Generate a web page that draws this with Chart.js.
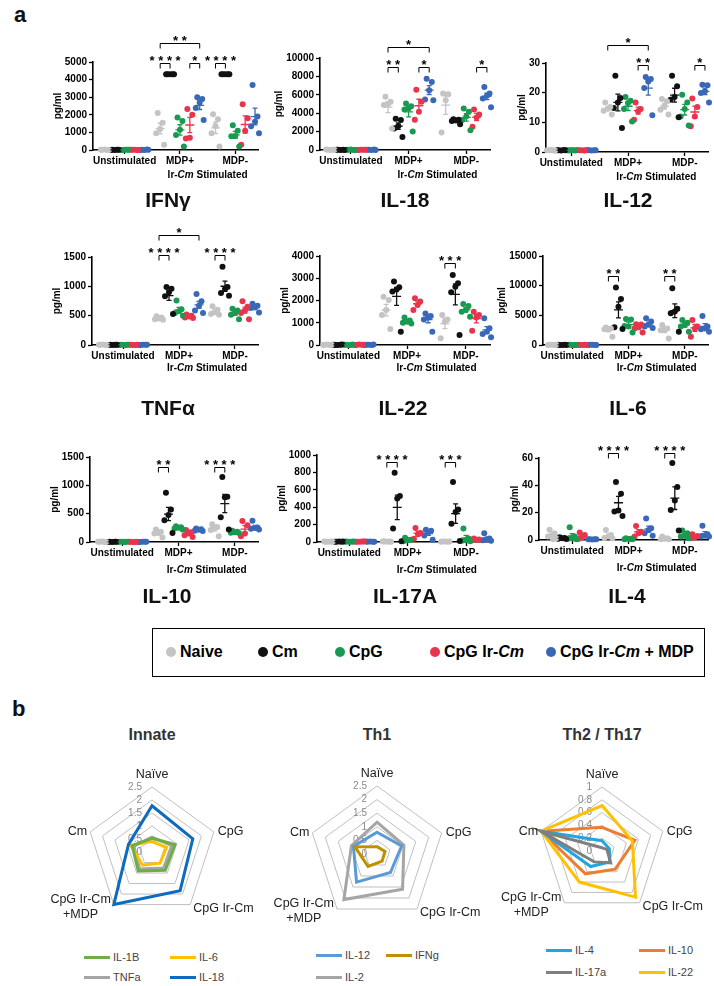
<!DOCTYPE html>
<html>
<head>
<meta charset="utf-8">
<script src="https://cdn.jsdelivr.net/npm/chart.js@4.4.1/dist/chart.umd.min.js"></script>
<style>
  body { margin: 0; background: #fff; font-family: "Liberation Sans", Arial, sans-serif; }
  #page { position: relative; width: 714px; height: 986px; overflow: hidden; background: #fff; }
  .ptitle { position: absolute; width: 200px; text-align: center; font-weight: bold; font-size: 21px; line-height: 24px; color: #111; }
  .rtitle { position: absolute; width: 200px; text-align: center; font-weight: bold; font-size: 16px; line-height: 20px; color: #333; }
  .tag { position: absolute; font-weight: bold; font-size: 22px; color: #111; }
  #legend { position: absolute; left: 152px; top: 628px; width: 551px; height: 47px; border: 1.5px solid #000; }
  .litem { position: absolute; top: 13px; font-weight: bold; font-size: 16px; line-height: 20px; white-space: nowrap; }
  .dot { position: absolute; top: 18px; width: 10px; height: 10px; border-radius: 50%; }
  .rleg { position: absolute; font-size: 11px; line-height: 14px; color: #444; white-space: nowrap; }
  .rleg span { display: inline-block; width: 26px; height: 3px; vertical-align: middle; margin-right: 3px; position: relative; top: -1px; }
</style>
</head>
<body>
<div id="page">
  <div class="tag" style="left:14px;top:2px;">a</div>
  <div class="tag" style="left:12px;top:696px;">b</div>

  <div id="legend">
    <div class="dot" style="left:13px;background:#c4c4c4"></div>
    <div class="litem" style="left:27px;">Naive</div>
    <div class="dot" style="left:105px;background:#111"></div>
    <div class="litem" style="left:119px;">Cm</div>
    <div class="dot" style="left:182px;background:#1a9a50"></div>
    <div class="litem" style="left:196px;">CpG</div>
    <div class="dot" style="left:277px;background:#e8344c"></div>
    <div class="litem" style="left:291px;">CpG Ir-<i>Cm</i></div>
    <div class="dot" style="left:393px;background:#3a68b8"></div>
    <div class="litem" style="left:407px;">CpG Ir-<i>Cm</i> + MDP</div>
  </div>

  <div class="rtitle" style="left:52px;top:725px;">Innate</div>
  <div class="rtitle" style="left:277px;top:725px;">Th1</div>
  <div class="rtitle" style="left:502px;top:725px;">Th2 / Th17</div>

  <div class="rleg" style="left:84px;top:950px;"><span style="background:#70ad47"></span>IL-1B</div>
  <div class="rleg" style="left:170px;top:950px;"><span style="background:#ffc000"></span>IL-6</div>
  <div class="rleg" style="left:84px;top:970px;"><span style="background:#a5a5a5"></span>TNFa</div>
  <div class="rleg" style="left:170px;top:970px;"><span style="background:#0f6cbd"></span>IL-18</div>

  <div class="rleg" style="left:316px;top:948px;"><span style="background:#5b9bd5"></span>IL-12</div>
  <div class="rleg" style="left:386px;top:948px;"><span style="background:#bf9000"></span>IFNg</div>
  <div class="rleg" style="left:316px;top:970px;"><span style="background:#a5a5a5"></span>IL-2</div>

  <div class="rleg" style="left:546px;top:943px;"><span style="background:#1ea7e1"></span>IL-4</div>
  <div class="rleg" style="left:639px;top:943px;"><span style="background:#ed7d31"></span>IL-10</div>
  <div class="rleg" style="left:546px;top:965px;"><span style="background:#7f7f7f"></span>IL-17a</div>
  <div class="rleg" style="left:639px;top:965px;"><span style="background:#ffc000"></span>IL-22</div>
</div>

<script>
// groups and series of the dot plots
const GROUPS = ['Unstimulated', 'MDP+', 'MDP-'];
const SERIES = ['Naive', 'Cm', 'CpG', 'CpG Ir-Cm', 'CpG Ir-Cm + MDP'];
const COLORS = ['#c4c4c4', '#111111', '#1a9a50', '#e8344c', '#3a68b8'];
const GROUP_START = [0, 5.6, 11.2];
const GROUP_CENTERS = [2, 7.6, 13.2];
const JITTER = [-0.25, 0.25, 0, -0.4, 0.4, 0.1];
const FONT = '"Liberation Sans", Arial, sans-serif';

// values per group: [Naive, Cm, CpG, CpG Ir-Cm, CpG Ir-Cm + MDP]
const IFNG_UNSTIM = [[15, 5, 25, 10, 0], [10, 20, 0, 5, 15], [5, 15, 20, 0, 10], [20, 0, 10, 15, 5], [10, 25, 5, 0, 15]];
const IFNG_MDP_POS = [[2100, 1550, 1200, 950, 300], [4300, 4300, 4300, 4300, 4300], [1850, 1650, 1150, 850, 200], [2330, 2000, 700, 650], [3000, 2900, 2700, 2380, 1700]];
const IFNG_MDP_NEG = [[2030, 1750, 1370, 950, 200], [4300, 4300, 4300, 4300, 4300], [1400, 1100, 800, 780, 200], [2600, 1800, 1100, 300], [3700, 1900, 1600, 1350, 950]];
const IFNG_AXIS = [0, 5000, 1000];
const IFNG_BRACKETS = [[1, 0, 1, 1, '****', 0], [1, 3, 1, 4, '*', 0], [2, 0, 2, 1, '****', 0], [1, 0, 1, 4, '**', 1]];

const IL18_UNSTIM = [[40, 20, 0, 60, 30], [20, 40, 0, 30, 10], [30, 0, 50, 20, 10], [10, 30, 40, 0, 20], [20, 50, 0, 30, 10]];
const IL18_MDP_POS = [[5800, 5250, 5000, 4900, 2350], [3400, 3250, 2600, 2350, 1400], [5050, 4750, 4500, 4400, 2000], [6550, 5250, 4150, 3300], [7750, 7400, 6500, 5500, 5400]];
const IL18_MDP_NEG = [[6150, 6050, 5400, 1900], [3350, 3300, 3200, 3150, 2800], [4500, 4150, 3650, 3250, 2150], [4400, 3860, 3540, 2530], [6850, 6150, 5900, 5600, 4650]];
const IL18_AXIS = [0, 10000, 2000];
const IL18_BRACKETS = [[1, 0, 1, 1, '**', 0], [1, 3, 1, 4, '*', 0], [2, 3, 2, 4, '*', 0], [1, 0, 1, 4, '*', 1]];

const IL12_UNSTIM = [[0.6, 0.5, 0.7, 0.6, 0.5], [0.6, 0.7, 0.5, 0.6, 0.6], [0.5, 0.6, 0.7, 0.6, 0.5], [0.6, 0.5, 0.6, 0.7, 0.6], [0.6, 0.6, 0.5, 0.7, 0.6]];
const IL12_MDP_POS = [[16.7, 15.2, 14.6, 13.9, 12.6], [25.7, 18.2, 16.7, 14.8, 8.1], [18.5, 17.3, 16.5, 14.5, 10.3], [16.7, 14.5, 13.7, 10.9], [25.3, 24.6, 23.8, 21.6, 12.4]];
const IL12_MDP_NEG = [[17.9, 17.1, 15.5, 14.2, 12.6], [25.7, 22.2, 18.5, 17.6, 11.7], [19.3, 16.7, 14.5, 12, 8.9], [18, 15.2, 12, 8.7], [22.7, 22.5, 20.5, 19.9, 16.7]];
const IL12_AXIS = [0, 30, 10];
const IL12_BRACKETS = [[1, 3, 1, 4, '**', 0], [2, 3, 2, 4, '*', 0], [1, 0, 1, 4, '*', 1]];

const TNFA_UNSTIM = [[5, 0, 8, 3, 2], [4, 6, 0, 2, 5], [3, 0, 6, 2, 4], [5, 2, 0, 6, 3], [2, 6, 4, 0, 3]];
const TNFA_MDP_POS = [[490, 470, 450, 440, 430], [990, 960, 900, 830, 530], [760, 610, 575, 545, 500], [520, 500, 485, 470, 460], [870, 745, 670, 590, 545]];
const TNFA_MDP_NEG = [[660, 600, 560, 530, 515], [1335, 990, 955, 885, 840], [620, 590, 540, 515, 440], [745, 650, 590, 545, 440], [705, 670, 640, 630, 555]];
const TNFA_AXIS = [0, 1500, 500];
const TNFA_BRACKETS = [[1, 0, 1, 1, '****', 0], [2, 0, 2, 1, '****', 0], [1, 0, 1, 4, '*', 1]];

const IL22_UNSTIM = [[10, 0, 20, 5, 15], [5, 15, 0, 10, 20], [10, 5, 0, 15, 20], [0, 10, 20, 5, 15], [15, 5, 10, 0, 20]];
const IL22_MDP_POS = [[2170, 2020, 1570, 1350, 720], [2850, 2590, 2500, 2400, 600], [1240, 1100, 1050, 1000, 970], [2100, 1950, 1800, 1570], [1420, 1300, 1240, 1150, 600]];
const IL22_MDP_NEG = [[1350, 1150, 1050, 300], [3150, 2770, 2620, 2370, 450], [1840, 1750, 1570, 1500, 1270], [1500, 1350, 1240, 640], [1200, 750, 600, 495, 345]];
const IL22_AXIS = [0, 4000, 1000];
const IL22_BRACKETS = [[2, 0, 2, 1, '***', 0]];

const IL6_UNSTIM = [[40, 0, 60, 20, 30], [20, 50, 0, 30, 10], [30, 10, 0, 50, 20], [0, 40, 20, 60, 10], [30, 0, 50, 10, 20]];
const IL6_MDP_POS = [[2950, 2800, 2700, 2650, 1400], [9700, 7750, 6450, 2980, 2700], [4400, 4300, 3100, 3200, 2100], [3500, 3450, 3000, 2800, 2100], [4500, 3950, 3400, 3100, 2850]];
const IL6_MDP_NEG = [[3350, 2800, 2600, 2500, 1100], [9550, 6100, 5650, 5350, 2250], [4200, 3750, 3350, 3100, 2250], [4200, 3100, 2800, 1400], [4900, 3100, 2800, 2650, 2250]];
const IL6_AXIS = [0, 15000, 5000];
const IL6_BRACKETS = [[1, 0, 1, 1, '**', 0], [2, 0, 2, 1, '**', 0]];

const IL10_UNSTIM = [[5, 0, 8, 3, 2], [4, 6, 0, 2, 5], [3, 0, 6, 2, 4], [5, 2, 0, 6, 3], [2, 6, 4, 0, 3]];
const IL10_MDP_POS = [[220, 180, 160, 150, 80], [870, 575, 475, 385, 160], [280, 260, 250, 240, 220], [210, 170, 150, 120, 90], [240, 225, 215, 200, 195]];
const IL10_MDP_NEG = [[315, 265, 250, 210, 100], [1145, 800, 790, 435, 220], [200, 180, 170, 165, 160], [370, 295, 150, 100], [375, 255, 245, 235, 220]];
const IL10_AXIS = [0, 1500, 500];
const IL10_BRACKETS = [[1, 0, 1, 1, '**', 0], [2, 0, 2, 1, '****', 0]];

const IL17A_UNSTIM = [[3, 5, 2, 6, 4], [4, 2, 6, 3, 5], [5, 3, 2, 4, 6], [2, 6, 4, 3, 5], [4, 3, 5, 6, 2]];
const IL17A_MDP_POS = [[8, 6, 4, 5, 3], [795, 530, 500, 155, 10], [50, 27, 19, 8], [162, 104, 88, 38], [140, 130, 115, 75, 25]];
const IL17A_MDP_NEG = [[6, 4, 5, 3, 7], [690, 375, 345, 210, 12], [155, 40, 20, 15, 10], [40, 30, 25, 20], [100, 40, 30, 20, 15]];
const IL17A_AXIS = [0, 1000, 200];
const IL17A_BRACKETS = [[1, 0, 1, 1, '****', 0], [2, 0, 2, 1, '***', 0]];

const IL4_UNSTIM = [[7.5, 5, 3.5, 2.5, 1.2, 0.5], [2, 1.5, 1.2, 1, 0.8], [9.3, 2.5, 1.5, 1, 0.5], [5.5, 3.7, 2, 0.7], [0.5, 0.5, 0.4, 0.6, 0.5]];
const IL4_MDP_POS = [[7.3, 3.7, 2.5, 1.5, 1.2], [42.4, 33.8, 21.6, 20.8, 17.6], [1.2, 0.9, 0.7, 0.5, 0.6], [10.3, 6.1, 4.9, 2.5], [15.7, 8.6, 7.4, 4.9, 3.2]];
const IL4_MDP_NEG = [[2.5, 1.2, 1, 0.5, 0.5], [56.4, 38.7, 28.9, 22, 6.9], [6.9, 4.9, 3, 2.5, 1.2], [4.2, 2.9, 2, 1.2], [10.5, 4.2, 3.2, 2.5, 2.5]];
const IL4_AXIS = [0, 60, 20];
const IL4_BRACKETS = [[1, 0, 1, 1, '****', 0], [2, 0, 2, 1, '****', 0]];

// radar charts: values at Naive, CpG, CpG Ir-Cm, CpG Ir-Cm+MDP, Cm
const RADAR_LABELS = ['Naïve', 'CpG', 'CpG Ir-Cm', ['CpG Ir-Cm', '+MDP'], 'Cm'];
const INNATE_IL18 = [1.78, 1.65, 1.84, 2.5, 0.95];
const INNATE_IL1B = [0.53, 0.93, 0.87, 0.9, 0.8];
const INNATE_IL6 = [0.4, 0.59, 0.53, 0.62, 0.87];
const INNATE_TNFA = [0.57, 0.8, 0.76, 0.81, 0.73];
const TH1_IL2 = [1.17, 1.04, 1.6, 2.07, 0.99];
const TH1_IL12 = [0.8, 0.95, 0.84, 1.28, 0.91];
const TH1_IFNG = [0.27, 0.31, 0.32, 0.56, 0.85];
const TH2_IL22 = [0.71, 0.5, 0.89, 0.6, 1];
const TH2_IL10 = [0.37, 0.54, 0.35, 0.44, 1];
const TH2_IL4 = [0.16, 0.12, 0.21, 0.3, 1];
const TH2_IL17A = [0.05, 0.08, 0.23, 0.21, 1];
const INNATE_TICKS = [0, 0.5, 1, 1.5, 2, 2.5];
const TH1_TICKS = [0, 0.5, 1, 1.5, 2, 2.5];
const TH2_TICKS = [0, 0.2, 0.4, 0.6, 0.8, 1];

function addCanvas(left, top, w, h) {
    const c = document.createElement('canvas');
    c.width = w;
    c.height = h;
    c.style.cssText = `position:absolute;left:${left}px;top:${top}px;width:${w}px;height:${h}px;`;
    document.getElementById('page').appendChild(c);
    return c;
}

function addTitle(text, cx, cy) {
    const d = document.createElement('div');
    d.className = 'ptitle';
    d.textContent = text;
    d.style.left = (cx - 100) + 'px';
    d.style.top = (cy - 12) + 'px';
    document.getElementById('page').appendChild(d);
}

const mean = a => a.reduce((s, v) => s + v, 0) / a.length;
const sem = a => {
    const m = mean(a);
    const sd = Math.sqrt(a.reduce((s, v) => s + (v - m) ** 2, 0) / (a.length - 1));
    return sd / Math.sqrt(a.length);
};

// mean line + SEM whiskers for every group/series
const meanSemPlugin = {
    id: 'meanSem',
    afterDatasetsDraw(chart, args, opts) {
        const { ctx, scales: { x, y } } = chart;
        ctx.save();
        ctx.lineWidth = 1.3;
        opts.groups.forEach((grp, g) => {
            grp.forEach((vals, s) => {
                const cx = x.getPixelForValue(GROUP_START[g] + s);
                const m = mean(vals), e = sem(vals);
                const ym = y.getPixelForValue(m);
                const yt = y.getPixelForValue(m + e), yb = y.getPixelForValue(Math.max(0, m - e));
                ctx.strokeStyle = COLORS[s];
                ctx.beginPath();
                ctx.moveTo(cx - 4.5, ym); ctx.lineTo(cx + 4.5, ym);
                ctx.moveTo(cx, yt); ctx.lineTo(cx, yb);
                ctx.moveTo(cx - 2.5, yt); ctx.lineTo(cx + 2.5, yt);
                ctx.moveTo(cx - 2.5, yb); ctx.lineTo(cx + 2.5, yb);
                ctx.stroke();
            });
        });
        ctx.restore();
    }
};

// significance brackets, y-axis title and the "Ir-Cm Stimulated" caption
const annotPlugin = {
    id: 'annot',
    afterDraw(chart, args, opts) {
        const { ctx, chartArea, scales: { x, y } } = chart;
        ctx.save();
        ctx.strokeStyle = '#000';
        ctx.fillStyle = '#000';
        ctx.lineWidth = 1;
        opts.brackets.forEach(([g1, s1, g2, s2, label, level]) => {
            const x1 = x.getPixelForValue(GROUP_START[g1] + s1);
            const x2 = x.getPixelForValue(GROUP_START[g2] + s2);
            const yy = Math.round(chartArea.top + opts.base - level * 20) + 0.5;
            ctx.beginPath();
            ctx.moveTo(x1, yy + 5); ctx.lineTo(x1, yy); ctx.lineTo(x2, yy); ctx.lineTo(x2, yy + 5);
            ctx.stroke();
            ctx.font = `bold 13px ${FONT}`;
            ctx.textAlign = 'center';
            ctx.textBaseline = 'alphabetic';
            ctx.fillText(label.split('').join(' '), (x1 + x2) / 2, yy + 1);
        });

        // y title
        ctx.font = `bold 10px ${FONT}`;
        let w = 0;
        y.ticks.forEach(t => { w = Math.max(w, ctx.measureText(String(t.value)).width); });
        ctx.save();
        ctx.translate(chartArea.left - 4 - 2 - w - 7, (chartArea.top + chartArea.bottom) / 2);
        ctx.rotate(-Math.PI / 2);
        ctx.font = `bold 10px ${FONT}`;
        ctx.textAlign = 'center';
        ctx.textBaseline = 'middle';
        ctx.fillText('pg/ml', 0, 0);
        ctx.restore();

        // caption with italic Cm
        const parts = [['Ir-', 'bold'], ['Cm', 'italic bold'], [' Stimulated', 'bold']];
        let total = 0;
        parts.forEach(p => { ctx.font = `${p[1]} 10px ${FONT}`; total += ctx.measureText(p[0]).width; });
        let px = (x.getPixelForValue(GROUP_CENTERS[1]) + x.getPixelForValue(GROUP_CENTERS[2])) / 2 - total / 2;
        const py = chartArea.bottom + opts.capY;
        ctx.textAlign = 'left';
        ctx.textBaseline = 'middle';
        parts.forEach(p => {
            ctx.font = `${p[1]} 10px ${FONT}`;
            ctx.fillText(p[0], px, py);
            px += ctx.measureText(p[0]).width;
        });
        ctx.restore();
    }
};

function makeDotPlot(p) {
    const left = p.axisX - 50, top = p.plotTop - 50;
    const w = p.plotRight + 6 - left;
    const h = p.plotBottom + 42 - top;
    const canvas = addCanvas(left, top, w, h);
    const groups = [p.unstim, p.pos, p.neg];

    const datasets = SERIES.map((name, s) => ({
        label: name,
        data: groups.flatMap((grp, g) => grp[s].map((v, k) => ({ x: GROUP_START[g] + s + JITTER[k], y: v }))),
        backgroundColor: COLORS[s],
        borderWidth: 0,
        pointRadius: 3,
        clip: false
    }));

    const tickFont = { family: FONT, size: 10, weight: 'bold' };
    new Chart(canvas, {
        type: 'scatter',
        data: { datasets },
        options: {
            responsive: false,
            animation: false,
            layout: { padding: { top: 50, right: 6, left: 0, bottom: 0 } },
            plugins: {
                legend: { display: false },
                tooltip: { enabled: false },
                meanSem: { groups },
                annot: { brackets: p.brackets, base: p.base, capY: p.capY }
            },
            scales: {
                x: {
                    type: 'linear',
                    min: p.xmin,
                    max: 15.5,
                    afterBuildTicks: s => { s.ticks = GROUP_CENTERS.map(v => ({ value: v })); },
                    afterFit: s => { s.height = h - 50 - (p.plotBottom - p.plotTop); },
                    ticks: {
                        callback: (v, i) => GROUPS[i],
                        font: tickFont,
                        color: '#000',
                        padding: 1,
                        maxRotation: 0,
                        autoSkip: false
                    },
                    grid: { drawOnChartArea: false, tickLength: 4, tickColor: '#000', tickWidth: 1.3 },
                    border: { color: '#000', width: 1.6 }
                },
                y: {
                    min: p.axis[0],
                    max: p.axis[1],
                    afterFit: s => { s.width = 50; },
                    ticks: { stepSize: p.axis[2], callback: v => String(v), font: tickFont, color: '#000', padding: 2 },
                    grid: { drawOnChartArea: false, tickLength: 4, tickColor: '#000', tickWidth: 1.3 },
                    border: { color: '#000', width: 1.6 }
                }
            }
        },
        plugins: [meanSemPlugin, annotPlugin]
    });
    addTitle(p.title, p.titleX, p.titleY);
}

const DOT_PANELS = [
    { title: 'IFNγ', unstim: IFNG_UNSTIM, pos: IFNG_MDP_POS, neg: IFNG_MDP_NEG, axis: IFNG_AXIS, brackets: IFNG_BRACKETS,
      axisX: 93, plotTop: 62, plotBottom: 150, plotRight: 258, xmin: -1.2, base: 1, capY: 25, titleX: 168, titleY: 200 },
    { title: 'IL-18', unstim: IL18_UNSTIM, pos: IL18_MDP_POS, neg: IL18_MDP_NEG, axis: IL18_AXIS, brackets: IL18_BRACKETS,
      axisX: 320, plotTop: 58, plotBottom: 150, plotRight: 490, xmin: -1.0, base: 9, capY: 25, titleX: 405, titleY: 200 },
    { title: 'IL-12', unstim: IL12_UNSTIM, pos: IL12_MDP_POS, neg: IL12_MDP_NEG, axis: IL12_AXIS, brackets: IL12_BRACKETS,
      axisX: 546, plotTop: 63, plotBottom: 152, plotRight: 708, xmin: -0.5, base: 2, capY: 25, titleX: 628, titleY: 200 },
    { title: 'TNFα', unstim: TNFA_UNSTIM, pos: TNFA_MDP_POS, neg: TNFA_MDP_NEG, axis: TNFA_AXIS, brackets: TNFA_BRACKETS,
      axisX: 92, plotTop: 257, plotBottom: 345, plotRight: 258, xmin: -1.1, base: -2, capY: 23, titleX: 168, titleY: 408 },
    { title: 'IL-22', unstim: IL22_UNSTIM, pos: IL22_MDP_POS, neg: IL22_MDP_NEG, axis: IL22_AXIS, brackets: IL22_BRACKETS,
      axisX: 320, plotTop: 256, plotBottom: 345, plotRight: 490, xmin: -0.7, base: 7, capY: 23, titleX: 403, titleY: 408 },
    { title: 'IL-6', unstim: IL6_UNSTIM, pos: IL6_MDP_POS, neg: IL6_MDP_NEG, axis: IL6_AXIS, brackets: IL6_BRACKETS,
      axisX: 543, plotTop: 256, plotBottom: 345, plotRight: 708, xmin: -0.9, base: 20, capY: 23, titleX: 628, titleY: 408 },
    { title: 'IL-10', unstim: IL10_UNSTIM, pos: IL10_MDP_POS, neg: IL10_MDP_NEG, axis: IL10_AXIS, brackets: IL10_BRACKETS,
      axisX: 90, plotTop: 457, plotBottom: 542, plotRight: 258, xmin: -1.2, base: 10, capY: 28, titleX: 167, titleY: 596 },
    { title: 'IL-17A', unstim: IL17A_UNSTIM, pos: IL17A_MDP_POS, neg: IL17A_MDP_NEG, axis: IL17A_AXIS, brackets: IL17A_BRACKETS,
      axisX: 317, plotTop: 455, plotBottom: 542, plotRight: 490, xmin: -1.1, base: 7, capY: 28, titleX: 405, titleY: 596 },
    { title: 'IL-4', unstim: IL4_UNSTIM, pos: IL4_MDP_POS, neg: IL4_MDP_NEG, axis: IL4_AXIS, brackets: IL4_BRACKETS,
      axisX: 539, plotTop: 458, plotBottom: 540, plotRight: 708, xmin: -1.3, base: -5, capY: 28, titleX: 627, titleY: 596 }
];

DOT_PANELS.forEach(makeDotPlot);

// radar text: ring values and point labels
const radarTextPlugin = {
    id: 'radarText',
    beforeDatasetsDraw(chart, args, opts) {
        const r = chart.scales.r, ctx = chart.ctx;
        ctx.save();
        ctx.font = `10px ${FONT}`;
        ctx.fillStyle = '#8a8a8a';
        ctx.textAlign = 'right';
        ctx.textBaseline = 'middle';
        opts.ticks.forEach(v => {
            ctx.fillText(String(v), r.xCenter - 10, r.yCenter - r.getDistanceFromCenterForValue(v));
        });
        ctx.restore();
    },
    afterDraw(chart) {
        const r = chart.scales.r, ctx = chart.ctx;
        ctx.save();
        ctx.font = `12.5px ${FONT}`;
        ctx.fillStyle = '#222';
        ctx.textBaseline = 'middle';
        chart.data.labels.forEach((lab, i) => {
            const p = r.getPointPosition(i, r.drawingArea);
            if (i === 0) { ctx.textAlign = 'center'; ctx.fillText(lab, p.x, p.y - 12); }
            if (i === 1) { ctx.textAlign = 'left'; ctx.fillText(lab, p.x + 4, p.y); }
            if (i === 2) { ctx.textAlign = 'left'; ctx.fillText(lab, p.x + 3, p.y + 4); }
            if (i === 3) {
                const bw = Math.max(...lab.map(t => ctx.measureText(t).width));
                ctx.textAlign = 'center';
                ctx.fillText(lab[0], p.x - 3 - bw / 2, p.y - 5);
                ctx.fillText(lab[1], p.x - 3 - bw / 2, p.y + 10);
            }
            if (i === 4) { ctx.textAlign = 'right'; ctx.fillText(lab, p.x - 3, p.y); }
        });
        ctx.restore();
    }
};

function makeRadar(cx, cy, radius, max, step, ticks, series) {
    const w = 240, h = 190;
    const canvas = addCanvas(cx - w / 2, cy - h / 2, w, h);
    const padX = (w - 2 * radius) / 2, padY = (h - 2 * radius) / 2;
    new Chart(canvas, {
        type: 'radar',
        data: {
            labels: RADAR_LABELS,
            datasets: series.map(([data, color]) => ({
                data,
                borderColor: color,
                backgroundColor: 'transparent',
                borderWidth: 3,
                borderJoinStyle: 'miter',
                fill: false,
                pointRadius: 0
            }))
        },
        options: {
            responsive: false,
            animation: false,
            layout: { padding: { left: padX, right: padX, top: padY, bottom: padY } },
            plugins: { legend: { display: false }, tooltip: { enabled: false }, radarText: { ticks } },
            elements: { line: { tension: 0 } },
            scales: {
                r: {
                    min: 0,
                    max,
                    ticks: { display: false, stepSize: step },
                    pointLabels: { display: false },
                    grid: { color: '#bfbfbf', lineWidth: 1 },
                    angleLines: { display: false }
                }
            }
        },
        plugins: [radarTextPlugin]
    });
}

makeRadar(152, 852, 65, 2.5, 0.5, INNATE_TICKS, [
    [INNATE_IL18, '#0f6cbd'], [INNATE_IL1B, '#70ad47'], [INNATE_IL6, '#ffc000'], [INNATE_TNFA, '#a5a5a5']
]);
makeRadar(377, 854, 68, 2.5, 0.5, TH1_TICKS, [
    [TH1_IFNG, '#bf9000'], [TH1_IL12, '#5b9bd5'], [TH1_IL2, '#a5a5a5']
]);
makeRadar(602, 851, 64, 1, 0.2, TH2_TICKS, [
    [TH2_IL17A, '#7f7f7f'], [TH2_IL4, '#1ea7e1'], [TH2_IL22, '#ffc000'], [TH2_IL10, '#ed7d31']
]);
</script>
</body>
</html>
